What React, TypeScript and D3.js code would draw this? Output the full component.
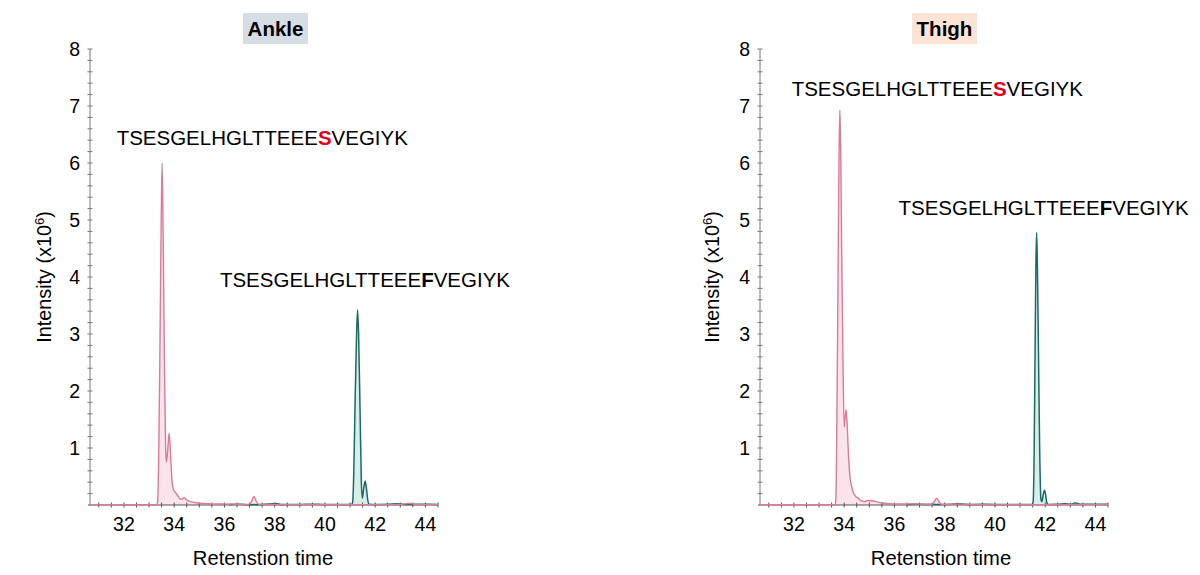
import React from "react";
import * as d3 from "d3";

// ---- data (retention time, intensity x10^6) ----
const ankleS: [number, number][] = [
  [30.65, 0.003], [31.5, 0.003], [32.5, 0.004], [33.3, 0.004], [33.34, 0.05], [33.38, 0.7], [33.43, 2.6],
  [33.48, 4.8], [33.52, 6.0], [33.56, 4.8], [33.61, 2.6], [33.66, 1.0], [33.69, 0.75], [33.74, 0.95],
  [33.8, 1.26], [33.85, 0.95], [33.91, 0.45], [33.97, 0.27], [34.05, 0.22], [34.15, 0.16], [34.25, 0.1],
  [34.33, 0.11], [34.4, 0.13], [34.5, 0.09], [34.65, 0.06], [34.85, 0.04], [35.1, 0.03], [35.5, 0.02],
  [36.0, 0.02], [36.5, 0.012], [36.95, 0.01], [37.08, 0.06], [37.17, 0.15], [37.27, 0.06], [37.38, 0.01],
  [38, 0.008], [39, 0.006], [40, 0.005], [41, 0.005], [42, 0.006], [43, 0.01], [43.4, 0.03], [43.6, 0.01],
  [44.5, 0.006],
];
const ankleF: [number, number][] = [
  [36.2, 0.01], [36.6, 0.012], [37.0, 0.006], [37.5, 0.01], [37.9, 0.02], [38.05, 0.028], [38.25, 0.01],
  [39, 0.01], [39.5, 0.015], [40, 0.008], [40.6, 0.01], [41.05, 0.01], [41.1, 0.04], [41.15, 0.6],
  [41.2, 1.8], [41.26, 3.0], [41.3, 3.42], [41.34, 3.0], [41.4, 1.6], [41.45, 0.4], [41.49, 0.12],
  [41.54, 0.28], [41.6, 0.42], [41.65, 0.3], [41.7, 0.1], [41.76, 0.015], [42.0, 0.008], [42.5, 0.012],
  [42.9, 0.02], [43.3, 0.01], [44, 0.012], [44.5, 0.01],
];
const thighS: [number, number][] = [
  [30.65, 0.003], [32, 0.004], [33, 0.004], [33.64, 0.004], [33.67, 0.1], [33.71, 1.5], [33.76, 4.2],
  [33.8, 6.3], [33.83, 6.93], [33.86, 6.3], [33.9, 4.5], [33.95, 2.6], [34.0, 1.37], [34.04, 1.55],
  [34.08, 1.67], [34.13, 1.3], [34.18, 0.8], [34.23, 0.5], [34.3, 0.32], [34.38, 0.2], [34.48, 0.14],
  [34.56, 0.12], [34.65, 0.08], [34.8, 0.06], [34.95, 0.08], [35.15, 0.07], [35.35, 0.05], [35.6, 0.03],
  [36, 0.02], [36.5, 0.02], [37, 0.015], [37.5, 0.012], [37.6, 0.07], [37.68, 0.12], [37.77, 0.06],
  [37.88, 0.01], [38.6, 0.015], [39, 0.008], [40, 0.006], [41, 0.005], [42, 0.005], [43, 0.008],
  [44.5, 0.006],
];
const thighF: [number, number][] = [
  [36.5, 0.01], [37, 0.012], [37.5, 0.008], [38, 0.01], [38.6, 0.02], [39, 0.01], [39.5, 0.012],
  [40, 0.01], [40.5, 0.008], [41, 0.01], [41.48, 0.01], [41.52, 0.05], [41.56, 0.9], [41.6, 2.8],
  [41.63, 4.2], [41.66, 4.78], [41.69, 4.2], [41.73, 2.8], [41.78, 1.0], [41.83, 0.1], [41.87, 0.06],
  [41.92, 0.18], [41.97, 0.26], [42.01, 0.2], [42.06, 0.05], [42.12, 0.01], [42.5, 0.012], [42.8, 0.025],
  [43.0, 0.012], [43.2, 0.035], [43.4, 0.015], [44, 0.012], [44.5, 0.012],
];

const panelTitles = ["Ankle", "Thigh"];
const xTickLabels = [32, 34, 36, 38, 40, 42, 44];
const yTickLabels = [1, 2, 3, 4, 5, 6, 7, 8];
const peptidePrefix = "TSESGELHGLTTEEE";
const peptideSuffix = "VEGIYK";
const siteResidues = ["S", "F"];
// label anchors in data units: [retention time, intensity]
const ankleLabelPos: [number, number][] = [[31.71, 6.32], [35.82, 3.83]];
const thighLabelPos: [number, number][] = [[31.91, 7.17], [36.16, 5.09]];

const FONT = "'Liberation Sans', Arial, Helvetica, sans-serif";
const PINK = "#dc7a98";
const PINK_FILL = "#fbe1ea";
const TEAL = "#1c6a63";
const TEAL_FILL = "#d8eeea";
const AXIS = "#7a7a7a";

type PanelProps = {
  x0: number;
  title: string;
  titleBg: string;
  titleCx: number;
  xLabelCx: number;
  yLabelX: number;
  sData: [number, number][];
  fData: [number, number][];
  labelPos: [number, number][];
};

function Panel(p: PanelProps) {
  const x = d3.scaleLinear().domain([30.65, 44.5]).range([p.x0, p.x0 + 348]);
  const y = d3.scaleLinear().domain([0, 8]).range([505, 49]);
  const line = d3
    .line<[number, number]>()
    .x((d) => x(d[0]))
    .y((d) => y(d[1]))
    .curve(d3.curveMonotoneX);
  const area = d3
    .area<[number, number]>()
    .x((d) => x(d[0]))
    .y0(y(0))
    .y1((d) => y(d[1]))
    .curve(d3.curveMonotoneX);

  const xMinor = d3.range(31, 44.51, 0.5);
  const yMinor = d3.range(0.2, 8.001, 0.2);
  const y0 = y(0);
  const xl = x(30.65);

  return (
    <g>
      {/* title */}
      <rect x={p.titleCx - 32.5} y={13} width={65} height={31} fill={p.titleBg} />
      <text x={p.titleCx} y={35.5} textAnchor="middle" fontFamily={FONT} fontSize={20.5} fontWeight="bold" fill="#000">
        {p.title}
      </text>

      {/* areas */}
      <path d={area(p.fData) || ""} fill={TEAL_FILL} />
      <path d={area(p.sData) || ""} fill={PINK_FILL} opacity={0.9} />

      {/* axes */}
      <line x1={xl} x2={xl} y1={y(8)} y2={y0} stroke={AXIS} strokeWidth={1} />
      <line x1={xl - 2} x2={x(44.5)} y1={y0} y2={y0} stroke="#555" strokeWidth={1} />
      {yMinor.map((v, i) => (
        <line key={"ym" + i} x1={xl - 2.5} x2={xl + 2.5} y1={y(v)} y2={y(v)} stroke={AXIS} strokeWidth={1} />
      ))}
      {xMinor.map((v, i) => (
        <line key={"xm" + i} x1={x(v)} x2={x(v)} y1={y0 - 2.5} y2={y0 + 2.5} stroke="#555" strokeWidth={1} />
      ))}
      {yTickLabels.map((v) => (
        <text key={"yl" + v} x={xl - 10} y={y(v)} dy="0.35em" textAnchor="end" fontFamily={FONT} fontSize={19.5} fill="#000">
          {v}
        </text>
      ))}
      {xTickLabels.map((v) => (
        <text key={"xl" + v} x={x(v)} y={531} textAnchor="middle" fontFamily={FONT} fontSize={19.5} fill="#000">
          {v}
        </text>
      ))}

      {/* lines */}
      <path d={line(p.fData) || ""} fill="none" stroke={TEAL} strokeWidth={1.5} />
      <path d={line(p.sData) || ""} fill="none" stroke={PINK} strokeWidth={1.4} />

      {/* axis titles */}
      <text x={p.xLabelCx} y={565} textAnchor="middle" fontFamily={FONT} fontSize={20.2} fill="#000">
        Retenstion time
      </text>
      <text
        transform={`translate(${p.yLabelX},${y(4)}) rotate(-90)`}
        textAnchor="middle"
        fontFamily={FONT}
        fontSize={19.8}
        fill="#000"
      >
        Intensity (x10
        <tspan fontSize={13} dy={-7}>6</tspan>
        <tspan dy={7}>)</tspan>
      </text>

      {/* peptide labels */}
      {p.labelPos.map((pos, i) => (
        <text key={"pl" + i} x={x(pos[0])} y={y(pos[1])} fontFamily={FONT} fontSize={20.5} fill="#000">
          {peptidePrefix}
          <tspan fontWeight="bold" fill={i === 0 ? "#e4001b" : "#000"}>
            {siteResidues[i]}
          </tspan>
          {peptideSuffix}
        </text>
      ))}
    </g>
  );
}

export default function App() {
  return (
    <svg
      width={1200}
      height={575}
      viewBox="0 0 1200 575"
      style={{ position: "absolute", left: 0, top: 0, background: "#fff" }}
    >
      <rect width={1200} height={575} fill="#fff" />
      <Panel
        x0={90}
        title={panelTitles[0]}
        titleBg="#d6dde4"
        titleCx={275.5}
        xLabelCx={263}
        yLabelX={51}
        sData={ankleS}
        fData={ankleF}
        labelPos={ankleLabelPos}
      />
      <Panel
        x0={760}
        title={panelTitles[1]}
        titleBg="#fbe3d6"
        titleCx={944.5}
        xLabelCx={941}
        yLabelX={719}
        sData={thighS}
        fData={thighF}
        labelPos={thighLabelPos}
      />
    </svg>
  );
}
